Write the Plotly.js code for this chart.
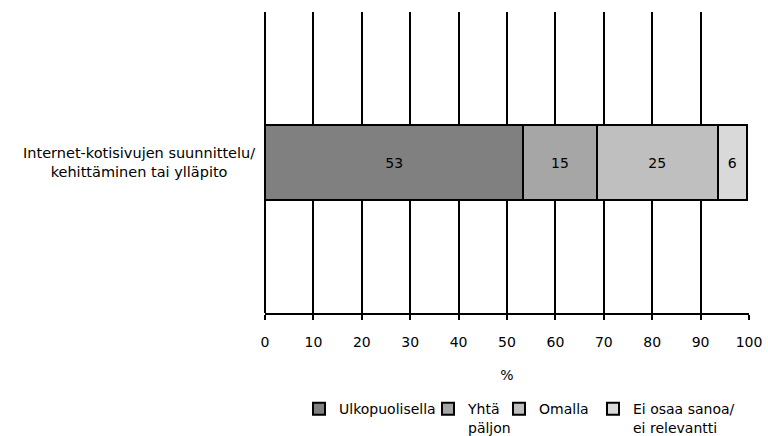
<!DOCTYPE html>
<html>
<head>
<meta charset="utf-8">
<script src="https://cdn.plot.ly/plotly-3.0.1.min.js"></script>
<style>html,body{margin:0;padding:0;background:#fff;}#chart{width:768px;height:436px;}</style>
</head>
<body>
<div id="chart"></div>
<script>
const categories = ["Internet-kotisivujen suunnittelu/<br>kehittäminen tai ylläpito"];
const seriesNames = ["Ulkopuolisella", "Yhtä<br>päljon", "Omalla", "Ei osaa sanoa/<br>ei relevantti"];
const seriesValues = [[53.4], [15.1], [25.1], [5.9]];
const seriesColors = ["#808080", "#a6a6a6", "#bfbfbf", "#d9d9d9"];
const xTicks = [0,10,20,30,40,50,60,70,80,90,100];

const font = "DejaVu Sans, sans-serif";
const legendIds = ["legend", "legend2", "legend3", "legend4"];
const legendX = [299, 428, 499, 593]; // left px of each legend entry

const traces = seriesNames.map((name, i) => ({
  type: "bar",
  orientation: "h",
  name: name,
  legend: legendIds[i],
  y: categories,
  x: seriesValues[i],
  texttemplate: "%{x:.0f}",
  textposition: "inside",
  insidetextanchor: "middle",
  textangle: 0,
  constraintext: "none",
  textfont: {color: "#000", size: 14, family: font},
  marker: {color: seriesColors[i], line: {color: "#000", width: 2}},
  width: 0.25,
  hoverinfo: "none"
}));

const layout = {
  width: 768, height: 436,
  margin: {l: 265, r: 19, t: 12, b: 123, autoexpand: false},
  barmode: "stack",
  paper_bgcolor: "#fff", plot_bgcolor: "#fff",
  font: {family: font, size: 14, color: "#000"},
  showlegend: true,
  xaxis: {range: [0, 100], tickvals: xTicks, ticktext: xTicks.map(String),
          showgrid: true, gridcolor: "#000", gridwidth: 2,
          zeroline: true, zerolinecolor: "#000", zerolinewidth: 2,
          showline: true, linecolor: "#000", linewidth: 2,
          ticks: "outside", ticklen: 5, tickwidth: 2, tickcolor: "#000",
          ticklabelstandoff: 10,
          tickfont: {size: 14}, fixedrange: true,
          title: {text: "%", font: {size: 14}, standoff: 21}},
  yaxis: {showticklabels: false, showgrid: false, zeroline: false, showline: false,
          range: [-0.5, 0.5], fixedrange: true, type: "category"},
  annotations: [{xref: "paper", yref: "y", x: -0.016, y: categories[0], xanchor: "right",
                 yanchor: "middle", align: "center", text: categories[0], showarrow: false,
                 font: {size: 14.5, family: font}}]
};
legendIds.forEach((id, i) => {
  layout[id] = {xref: "container", yref: "container", x: legendX[i] / 768, xanchor: "left",
                y: 0.098, yanchor: "top", bgcolor: "rgba(0,0,0,0)",
                font: {size: 14, family: font}, valign: "top", itemwidth: 30};
});

Plotly.newPlot("chart", traces, layout, {displayModeBar: false, staticPlot: true});
</script>
</body>
</html>
